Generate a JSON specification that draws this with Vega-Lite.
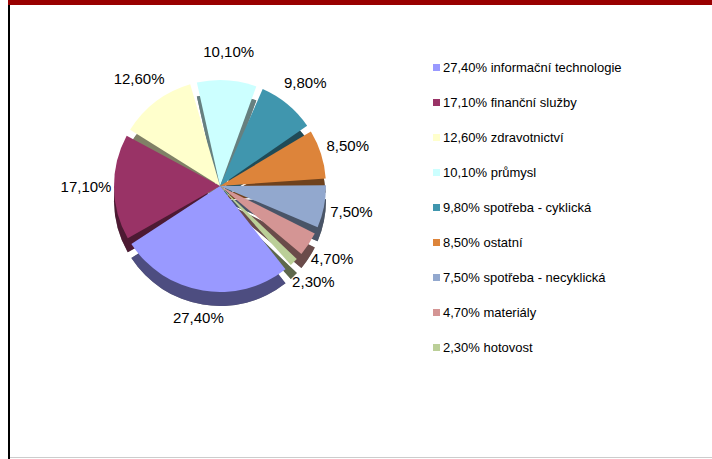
{
  "$schema": "https://vega.github.io/schema/vega-lite/v6.json",
  "padding": {"left": 8, "top": 0, "right": 0, "bottom": 0},
  "background": "#ffffff",
  "config": {"view": {"stroke": null}, "font": "Liberation Sans", "concat": {"spacing": 0}},
  "datasets": {
    "sektory": [
      {"poradi": 1, "polozka": "27,40% informační technologie", "podil": 27.4, "label": "27,40%"},
      {"poradi": 2, "polozka": "17,10% finanční služby", "podil": 17.1, "label": "17,10%"},
      {"poradi": 3, "polozka": "12,60% zdravotnictví", "podil": 12.6, "label": "12,60%"},
      {"poradi": 4, "polozka": "10,10% průmysl", "podil": 10.1, "label": "10,10%"},
      {"poradi": 5, "polozka": "9,80% spotřeba - cyklická", "podil": 9.8, "label": "9,80%"},
      {"poradi": 6, "polozka": "8,50% ostatní", "podil": 8.5, "label": "8,50%"},
      {"poradi": 7, "polozka": "7,50% spotřeba - necyklická", "podil": 7.5, "label": "7,50%"},
      {"poradi": 8, "polozka": "4,70% materiály", "podil": 4.7, "label": "4,70%"},
      {"poradi": 9, "polozka": "2,30% hotovost", "podil": 2.3, "label": "2,30%"}
    ],
    "prazdna": []
  },
  "vconcat": [
    {
      "width": 704, "height": 5,
      "data": {"name": "prazdna"},
      "mark": "point",
      "view": {"fill": "#990000", "stroke": null}
    },
    {
      "hconcat": [
        {
          "width": 2, "height": 454,
          "data": {"name": "prazdna"},
          "mark": "point",
          "view": {"fill": "#000000", "stroke": null}
        },
        {
          "vconcat": [
            {
              "width": 420, "height": 362,
              "data": {"name": "sektory"},
              "encoding": {
                "theta": {"field": "podil", "type": "quantitative", "stack": true, "scale": {"range": [2.443, 8.726]}},
                "order": {"field": "poradi", "type": "quantitative"}
              },
              "layer": [
                {"mark": {"type": "arc", "radius": 106, "padAngle": 0.065, "yOffset": 14, "fill": "#000000"}},
                {
                  "mark": {"type": "arc", "radius": 106, "padAngle": 0.065, "yOffset": 14, "fillOpacity": 0.5},
                  "encoding": {
                    "color": {"field": "polozka", "type": "nominal"}
                  }
                },
                {
                  "mark": {"type": "arc", "radius": 106, "padAngle": 0.065},
                  "encoding": {
                    "color": {"field": "polozka", "type": "nominal",
                      "scale": {
                        "domain": ["27,40% informační technologie", "17,10% finanční služby", "12,60% zdravotnictví", "10,10% průmysl", "9,80% spotřeba - cyklická", "8,50% ostatní", "7,50% spotřeba - necyklická", "4,70% materiály", "2,30% hotovost"],
                        "range": ["#9999FF", "#993366", "#FFFFCC", "#CCFFFF", "#4096AE", "#DD843A", "#92A8CE", "#D49594", "#BBCF98"]
                      },
                      "legend": {
                        "orient": "none", "legendX": 422, "legendY": 61, "title": null,
                        "symbolType": "square", "symbolSize": 49, "symbolStrokeWidth": 0, "symbolOpacity": 1,
                        "labelFont": "Liberation Sans", "labelFontSize": 13, "labelColor": "#000000", "labelLimit": 0,
                        "rowPadding": 21, "labelOffset": 0, "padding": 0
                      }
                    }
                  }
                },
                {
                  "mark": {"type": "text", "radius": 134, "font": "Liberation Sans", "fontSize": 15, "fill": "#000000", "align": "center", "baseline": "middle"},
                  "encoding": {"text": {"field": "label", "type": "nominal"}}
                }
              ]
            },
            {
              "width": 420, "height": 90,
              "data": {"name": "prazdna"},
              "mark": "point"
            },
            {
              "width": 702, "height": 1,
              "data": {"name": "prazdna"},
              "mark": "point",
              "view": {"fill": "#cccccc", "stroke": null}
            }
          ],
          "bounds": "flush",
          "spacing": 0
        }
      ],
      "bounds": "flush",
      "spacing": 0
    }
  ],
  "bounds": "flush",
  "spacing": 0
}
